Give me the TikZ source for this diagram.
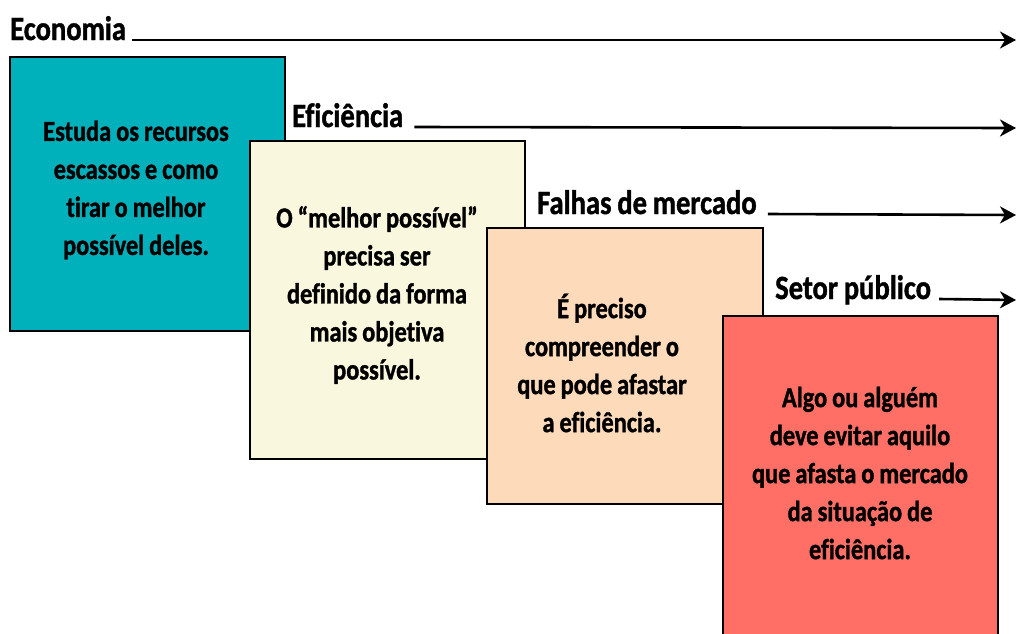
\documentclass[tikz,border=0pt]{standalone}
\usepackage{fontspec}
\setmainfont{Carlito}[Ligatures=NoCommon,BoldFeatures={FakeStretch=0.84,FakeBold=1.2,WordSpace={0.9,0.5,0.3}}]
\usetikzlibrary{arrows.meta}
\definecolor{cteal}{RGB}{0,176,186}
\definecolor{ccream}{RGB}{249,247,222}
\definecolor{cpeach}{RGB}{252,218,186}
\definecolor{csalmon}{RGB}{255,111,102}
\begin{document}
\begin{tikzpicture}[x=1pt,y=-1pt,
  card/.style={draw=black,line width=1.8pt},
  title/.style={font=\bfseries\fontsize{34}{38}\selectfont,anchor=base west,inner sep=0pt},
  body/.style={font=\bfseries\fontsize{29}{38}\selectfont,align=center,inner sep=0pt},
  axis/.style={line width=2.6pt,-{Stealth[length=16pt,width=17pt,inset=5pt]}}]
\useasboundingbox (0,0) rectangle (1017,633);
% cards
\filldraw[card,fill=cteal] (10,57) rectangle (285,331);
\filldraw[card,fill=ccream] (250,141) rectangle (525,459);
\filldraw[card,fill=cpeach] (487,228) rectangle (763,504);
\filldraw[card,fill=csalmon] (723,316) rectangle (998,640);
% titles
\node[title] (t1) at (10,40) {Economia};
\node[title] (t2) at (292,127) {Eficiência};
\node[title] (t3) at (537,214) {Falhas de mercado};
\node[title] (t4) at (775,299) {Setor público};
\coordinate (e1) at (1016,40);
\coordinate (e2) at (1016,128);
\coordinate (e3) at (1016,215);
\coordinate (e4) at (1016,300);
\draw[axis] ([xshift=6pt]t1.base east) -- (e1);
\draw[axis] ([xshift=11pt]t2.base east) -- (e2);
\draw[axis] ([xshift=11pt]t3.base east) -- (e3);
\draw[axis] ([xshift=8pt]t4.base east) -- (e4);
% texts
\node[body] (b1) at (136,190) {Estuda os recursos\\escassos e como\\tirar o melhor\\possível deles.};
\node[body] (b2) at (377,295) {O “melhor possível”\\precisa ser\\definido da forma\\mais objetiva\\possível.};
\node[body] (b3) at (602,363) {É preciso\\compreender o\\que pode afastar\\a eficiência.};
\node[body] (b4) at (860,473) {Algo ou alguém\\deve evitar aquilo\\que afasta o mercado\\da situação de\\eficiência.};
\end{tikzpicture}
\end{document}
